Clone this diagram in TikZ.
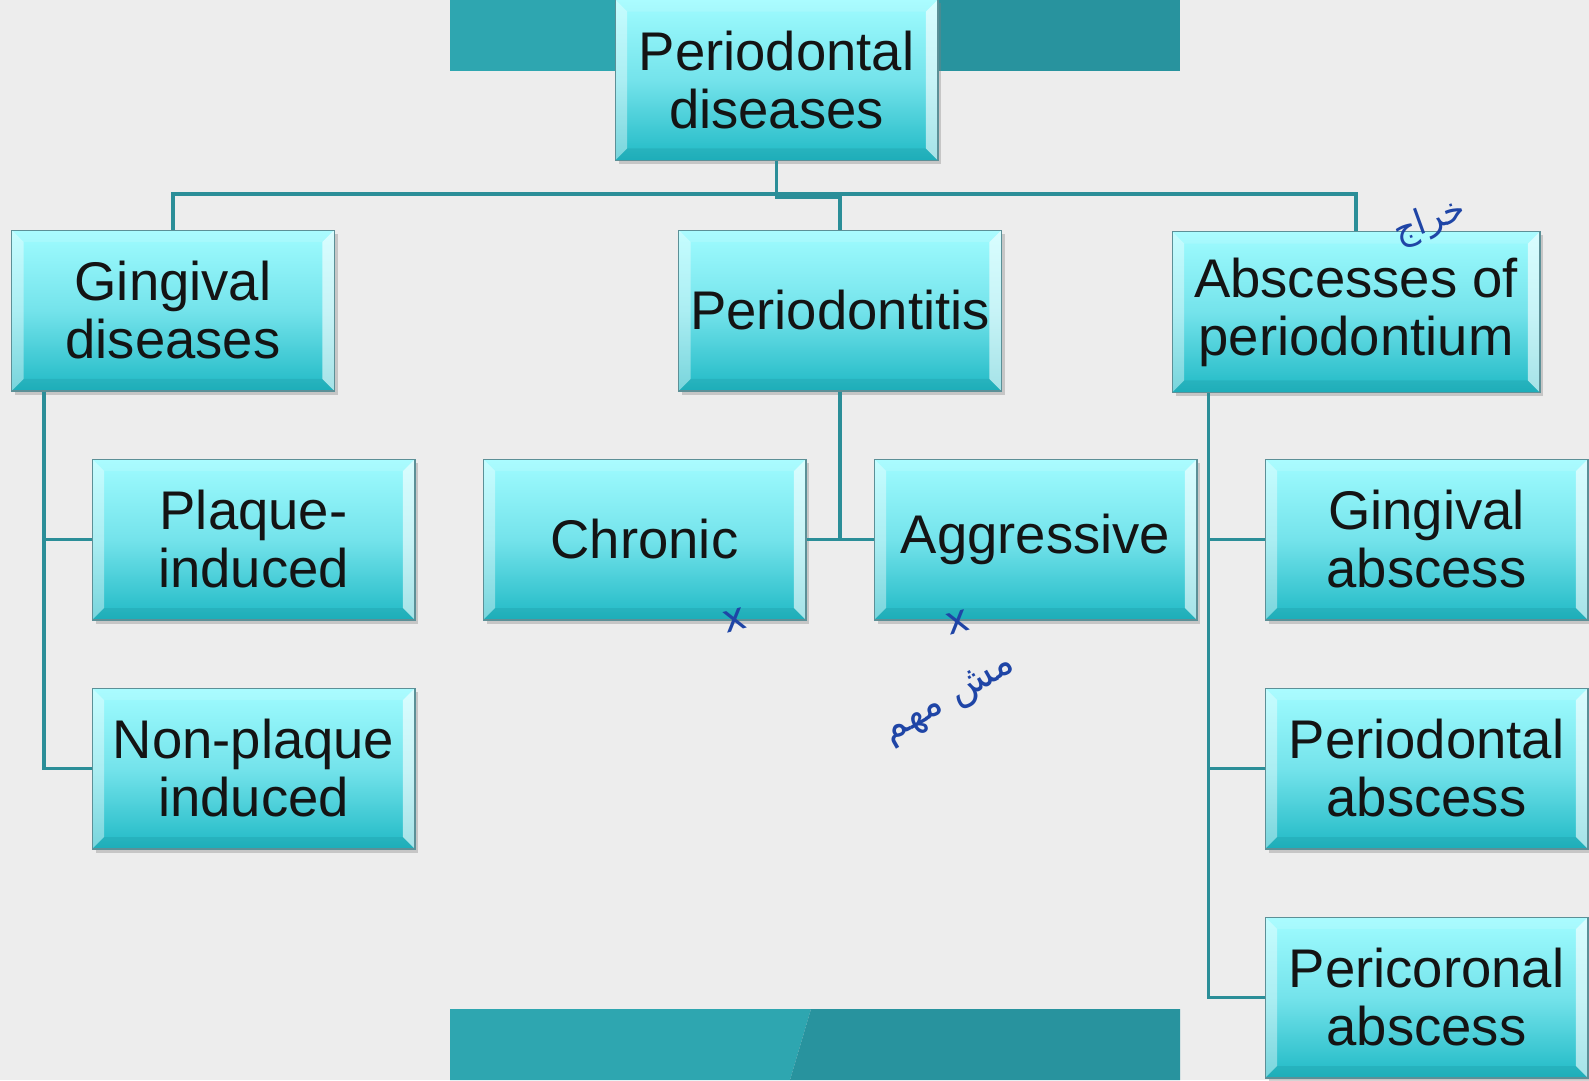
\documentclass[tikz,border=0pt]{standalone}
\usepackage{fontspec}
\setmainfont{Liberation Sans}
\newfontfamily\arabicfont[Script=Arabic]{DejaVu Sans}
\TeXXeTstate=1
\usetikzlibrary{shadows}
\definecolor{bggrey}{HTML}{EDEDED}
\definecolor{barlight}{HTML}{2EA6B0}
\definecolor{bardark}{HTML}{28939E}
\definecolor{boxtop}{HTML}{A0FCFF}
\definecolor{boxmid}{HTML}{74E3EB}
\definecolor{boxbottom}{HTML}{1FB9C5}
\definecolor{boxedge}{HTML}{5C9097}
\definecolor{boxtext}{HTML}{141414}
\definecolor{linkteal}{HTML}{2B8E98}
\definecolor{inkblue}{HTML}{1F45A6}
\newcommand{\bev}{0.24cm}
\tikzset{
  box/.style={draw=boxedge, line width=0.6pt,
    top color=boxtop, bottom color=boxbottom, middle color=boxmid,
    minimum width=6.46cm, minimum height=3.22cm, inner sep=0pt,
    align=center, text=boxtext, font=\fontsize{31}{33}\selectfont,
    drop shadow={opacity=.35, shadow xshift=2pt, shadow yshift=-2pt},
    path picture={
      \fill[white, opacity=.4] (path picture bounding box.north west) -- (path picture bounding box.south west)
        -- ([shift={(\bev,\bev)}]path picture bounding box.south west) -- ([shift={(\bev,-\bev)}]path picture bounding box.north west) -- cycle;
      \fill[white, opacity=.6] (path picture bounding box.north east) -- (path picture bounding box.south east)
        -- ([shift={(-\bev,\bev)}]path picture bounding box.south east) -- ([shift={(-\bev,-\bev)}]path picture bounding box.north east) -- cycle;
      \fill[boxbottom!70!black, opacity=.2] (path picture bounding box.south west) -- (path picture bounding box.south east)
        -- ([shift={(-\bev,\bev)}]path picture bounding box.south east) -- ([shift={(\bev,\bev)}]path picture bounding box.south west) -- cycle;
      \fill[white, opacity=.12] (path picture bounding box.north west) -- (path picture bounding box.north east)
        -- ([shift={(-\bev,-\bev)}]path picture bounding box.north east) -- ([shift={(\bev,-\bev)}]path picture bounding box.north west) -- cycle;
    }},
  widebox/.style={box, minimum width=7.36cm},
  link/.style={draw=linkteal, line width=2.2pt},
  ink/.style={text=inkblue, font=\arabicfont\fontsize{22}{22}\selectfont, inner sep=0pt},
}
\begin{document}
\begin{tikzpicture}[x=0.02cm, y=-0.02cm]
\fill[bggrey] (0,0) rectangle (1589,1080);
\useasboundingbox (0,0) rectangle (1589,1080);
% bars
\fill[barlight] (450,0) rectangle (780,71);
\fill[bardark] (780,0) rectangle (1180,71);
\fill[barlight] (450,1009) -- (811,1009) -- (790,1080) -- (450,1080) -- cycle;
\fill[bardark] (811,1009) -- (1180,1009) -- (1180,1080) -- (790,1080) -- cycle;

% boxes
\node[box] (top) at (776.5,80) {Periodontal\\diseases};
\node[box] (gingival) at (173,310.5) {Gingival\\diseases};
\node[box] (periodontitis) at (840,310.5) {Periodontitis};
\node[widebox] (abscesses) at (1356,312) {Abscesses of\\periodontium};
\node[box] (plaque) at (253.5,539.5) {Plaque-\\induced};
\node[box] (nonplaque) at (253.5,768.5) {Non-plaque\\induced};
\node[box] (chronic) at (644.5,539.5) {Chronic};
\node[box] (aggressive) at (1035.5,539.5) {Aggressive};
\node[box] (gabscess) at (1426.5,539.5) {Gingival\\abscess};
\node[box] (pabscess) at (1426.5,768.5) {Periodontal\\abscess};
\node[box] (pcabscess) at (1426.5,997.5) {Pericoronal\\abscess};

% connectors
\draw[link] (top.south) -- ++(0,33) coordinate (bus);
\draw[link] (bus) -| (gingival.north);
\draw[link] (bus) -| (abscesses.north);
\draw[link] (bus) -- ++(0,3) -| (periodontitis.north);
\draw[link] ([xshift=0.66cm]gingival.south west) |- (plaque.west);
\draw[link] ([xshift=0.66cm]gingival.south west) |- (nonplaque.west);
\draw[link] (periodontitis.south) |- (chronic.east);
\draw[link] (periodontitis.south) |- (aggressive.west);
\draw[link] ([xshift=0.74cm]abscesses.south west) |- (gabscess.west);
\draw[link] ([xshift=0.74cm]abscesses.south west) |- (pabscess.west);
\draw[link] ([xshift=0.74cm]abscesses.south west) |- (pcabscess.west);

% handwritten notes
\node[ink, rotate=15] (xchronic) at (735,620) {x};
\node[ink, rotate=15] (xaggressive) at (958,622) {x};
\node[ink, rotate=30] (notimportant) at (950,700) {\beginR مش مهم\endR};
\node[ink, rotate=20, font=\arabicfont\fontsize{20}{20}\selectfont] (abscessnote) at (1430,222) {\beginR خراج\endR};
\end{tikzpicture}
\end{document}
